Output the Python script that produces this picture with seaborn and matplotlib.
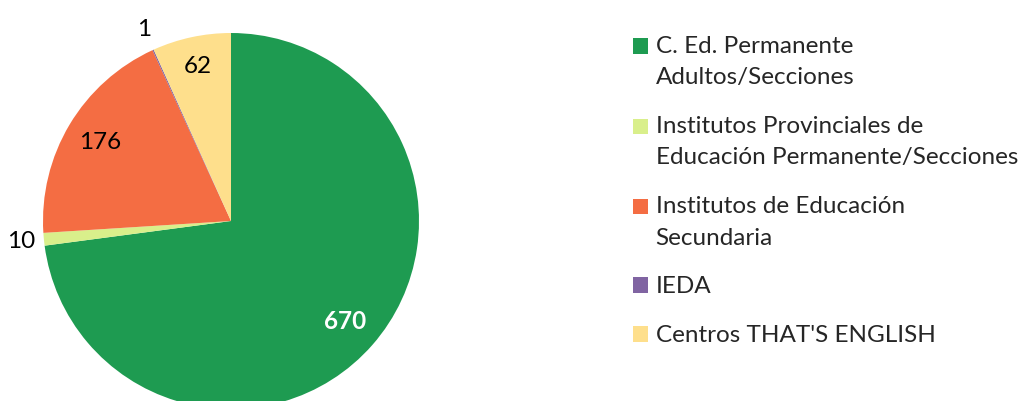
import numpy as np
import matplotlib.pyplot as plt
import seaborn as sns
from matplotlib.patches import Patch, Rectangle
from matplotlib.legend_handler import HandlerPatch

# data
categories = ['C. Ed. Permanente\nAdultos/Secciones',
              'Institutos Provinciales de\nEducación Permanente/Secciones',
              'Institutos de Educación\nSecundaria',
              'IEDA',
              "Centros THAT'S ENGLISH"]
values = [670, 10, 176, 1, 62]
colors = ['#1e9b51', '#d9ef8b', '#f46d43', '#8064a2', '#fedf8c']

sns.set_theme(style='white')
plt.rcParams['font.family'] = ['Lato', 'DejaVu Sans']

FS = 17.5
LS = 1.6

fig = plt.figure(figsize=(10.25, 4.01), dpi=100)
W, H = 1025, 401
cx, cy, r = 231, 221, 188
ax = fig.add_axes([(cx - r) / W, (H - cy - r) / H, 2 * r / W, 2 * r / H])

wedges, _ = ax.pie(values, colors=sns.color_palette(colors), startangle=90,
                   counterclock=False, radius=1,
                   wedgeprops=dict(linewidth=0, edgecolor='none'))
ax.set_xlim(-1, 1)
ax.set_ylim(-1, 1)
ax.set_aspect('equal')
ax.axis('off')

# value labels: big slices inside, tiny ones outside
for w, v in zip(wedges, values):
    mid = np.deg2rad((w.theta1 + w.theta2) / 2)
    if v > 50:
        d = 0.81 if v != 62 else 0.84
        col = 'white' if v == 670 else 'black'
        wt = 'bold' if v == 670 else 'normal'
    else:
        d = 1.12
        col, wt = 'black', 'normal'
    ax.text(d * np.cos(mid), d * np.sin(mid), str(v), ha='center', va='center',
            fontsize=FS, color=col, fontweight=wt, clip_on=False)


# legend squares sit next to the first text line, like Excel does
def top_square(nlines):
    dy = (nlines - 1) * LS * 0.82 * FS / 2

    def f(legend, orig_handle, xdescent, ydescent, width, height, fontsize):
        return Rectangle((-xdescent, -ydescent + dy), width, height)
    return f


handles = [Patch(facecolor=c, edgecolor='none') for c in colors]
hmap = {h: HandlerPatch(patch_func=top_square(lab.count('\n') + 1))
        for h, lab in zip(handles, categories)}
leg = fig.legend(handles, categories, handler_map=hmap, loc='upper left',
                 bbox_to_anchor=(633 / W, 1 - 36 / H), frameon=False, fontsize=FS,
                 handlelength=0.6, handleheight=0.6, handletextpad=0.33,
                 labelspacing=1.15, borderpad=0, borderaxespad=0)
for t in leg.get_texts():
    t.set_linespacing(LS)

fig.savefig('out.png', dpi=100)
